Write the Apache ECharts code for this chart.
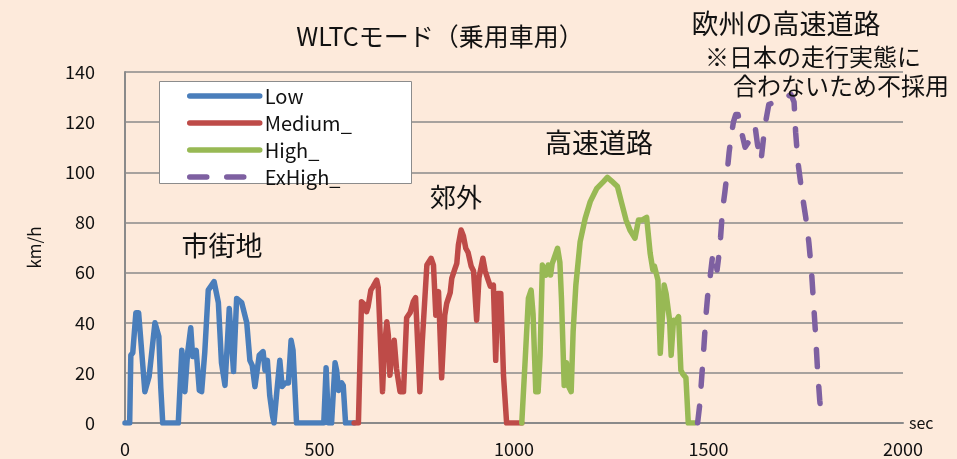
<!DOCTYPE html>
<html>
<head>
<meta charset="utf-8">
<script src="https://cdn.jsdelivr.net/npm/echarts@6/dist/echarts.min.js"></script>
<style>
  html, body { margin: 0; padding: 0; background: #FDEADB; }
  #chart { width: 957px; height: 459px; }
</style>
</head>
<body>
<div id="chart"></div>
<script>
// WLTC class 3 drive cycle: time (s) and vehicle speed (km/h) per phase
const lowTime = [0,12,15,20,28,35,46,51,56,62,77,87,92,97,137,146,154,161,169,174,183,191,197,205,214,229,240,248,257,268,279,287,300,313,321,327,334,339,345,355,360,366,372,379,383,390,398,404,412,420,427,432,441,511,517,523,531,540,544,549,557,561,567,589];
const lowSpeed = [0,0,27,28,44,44,22.5,12.5,12.5,18.5,40,34.5,14,0,0,29,12.5,28,38,26.5,29,13,12.5,28,53,56.4,48,24,15,45.7,20.5,49.7,48,40,25,23,14.5,15,27,28.5,21,25,11,3,0,12,25,14.6,16,16,33,29,0,0,22,0,0,24,21,13,16,15,0,0];

const mediumTime = [589,600,608,614,621,625,632,638,647,651,662,667,673,677,681,685,692,698,702,707,716,724,733,741,747,758,764,776,787,793,799,806,814,822,827,836,840,847,853,857,864,870,876,882,890,896,904,910,920,926,933,939,947,953,958,966,973,981,1020];
const mediumSpeed = [0,0,48.4,47.5,44.4,46.5,53,54.5,57,54,12.5,30,40.4,35,19,27,33,21.6,22,12.5,12.5,42,44,48.4,50,12.5,32,63,65.7,63,43,52.4,18,43,47.7,52,57.7,61,63.7,71,77,74.6,69.7,68,62.5,60.6,41,58,65.7,60.6,57.3,54.6,55,25,51.7,51.7,19,0,0];

const highTime = [1020,1028,1037,1044,1049,1056,1062,1067,1073,1078,1082,1088,1094,1098,1103,1112,1118,1122,1129,1135,1139,1147,1152,1159,1170,1183,1196,1213,1230,1240,1251,1266,1277,1288,1298,1311,1320,1330,1341,1350,1357,1361,1370,1376,1386,1391,1400,1404,1410,1414,1423,1429,1434,1442,1448,1465];
const highSpeed = [0,23,49.7,53,43.5,12.5,12.5,27,63,63,59,63,59,63.5,64,69.7,64,49.7,15,24,15,12.5,36.4,55,72.3,81.6,88.3,93.6,96.3,98,96.5,94.3,87.6,81,77,73.7,81,81,82,67.7,61,62.6,57,27.8,55,51.6,41,27,41,40,42.4,21,19.5,18,0,0];

const exHighTime = [1472,1478,1482,1488,1493,1498,1504,1510,1516,1522,1526,1531,1536,1542,1548,1553,1558,1564,1570,1576,1585,1594,1607,1620,1626,1635,1641,1648,1655,1670,1690,1712,1720,1724,1730,1740,1750,1758,1765,1770,1775,1780,1786,1790];
const exHighSpeed = [0,8,17,30,42,51,58,66,68,61,66,74,85,92,100,108,114,120,123,123,116,110,113,118,111,104.5,113,121,127,128,129,131,128,116,104,92,82,72,60,48,36,22,9,3];

// axis ticks
const xTicks = { min: 0, max: 2000, step: 500 };
const yTicks = { min: 0, max: 140, step: 20 };

const phaseNames = ['Low', 'Medium_', 'High_', 'ExHigh_'];
const phaseColors = ['#4A7EBB', '#BE4B48', '#98B954', '#7E60A1'];

const pairs = (ts, vs) => ts.map((t, i) => [t, vs[i]]);
const phaseData = [
  pairs(lowTime, lowSpeed),
  pairs(mediumTime, mediumSpeed),
  pairs(highTime, highSpeed),
  pairs(exHighTime, exHighSpeed)
];

const FONT = '"Noto Sans CJK JP", "Noto Sans", sans-serif';
const gray = '#8a8a8a';

const chart = echarts.init(document.getElementById('chart'), null, { renderer: 'canvas' });

const series = phaseNames.map((name, i) => ({
  name,
  type: 'line',
  data: phaseData[i],
  symbol: 'none',
  showSymbol: false,
  smooth: false,
  z: 3 + i,
  lineStyle: {
    color: phaseColors[i],
    width: 5.5,
    cap: 'round',
    join: 'round',
    type: i === 3 ? [17, 20] : 'solid'
  },
  itemStyle: { color: phaseColors[i] }
}));

const textEl = (text, x, y, size, align) => ({
  type: 'text',
  x, y,
  z: 20,
  style: {
    text,
    fill: '#111',
    fontSize: size,
    fontFamily: FONT,
    align: align || 'center',
    verticalAlign: 'middle'
  }
});

chart.setOption({
  animation: false,
  backgroundColor: '#FDEADB',
  grid: { left: 125, right: 54, top: 72, bottom: 36, containLabel: false },
  xAxis: {
    type: 'value',
    min: xTicks.min, max: xTicks.max, interval: xTicks.step,
    name: 'sec',
    nameLocation: 'end',
    nameGap: 6,
    nameTextStyle: { fontSize: 16, fontFamily: FONT, color: '#111', verticalAlign: 'middle' },
    axisLine: { show: true, lineStyle: { color: gray, width: 2 } },
    axisTick: { show: false },
    splitLine: { show: false },
    axisLabel: { fontSize: 18, fontFamily: FONT, color: '#111', margin: 17, formatter: v => String(v) }
  },
  yAxis: {
    type: 'value',
    min: yTicks.min, max: yTicks.max, interval: yTicks.step,
    name: 'km/h',
    nameLocation: 'middle',
    nameRotate: 90,
    nameGap: 82,
    nameTextStyle: { fontSize: 17, fontFamily: FONT, color: '#111' },
    axisLine: { show: true, lineStyle: { color: gray, width: 2 } },
    axisTick: { show: false },
    splitLine: { show: true, lineStyle: { color: gray, width: 1.5 } },
    axisLabel: { fontSize: 18, fontFamily: FONT, color: '#111', margin: 30, formatter: v => String(v) }
  },
  legend: {
    orient: 'vertical',
    left: 187,
    top: 86,
    padding: 0,
    itemGap: 7,
    itemWidth: 70,
    itemHeight: 14,
    z: 10,
    textStyle: { fontSize: 20, fontFamily: FONT, color: '#111' },
    lineStyle: { width: 5.5, cap: 'round' },
    itemStyle: { color: 'transparent', borderWidth: 0, opacity: 0 },
    data: phaseNames
  },
  graphic: [
    {
      type: 'rect',
      z: 5,
      shape: { x: 159.5, y: 81.5, width: 252, height: 102 },
      style: { fill: '#ffffff', stroke: '#8c8c8c', lineWidth: 1 }
    },
    textEl('WLTCモード（乗用車用）', 440, 36, 25),
    textEl('欧州の高速道路', 786, 24, 27),
    textEl('※日本の走行実態に', 705, 57, 24, 'left'),
    textEl('合わないため不採用', 733, 86, 24, 'left'),
    textEl('市街地', 222, 246, 27),
    textEl('郊外', 456, 197, 26),
    textEl('高速道路', 599, 143, 27)
  ],
  series
});
</script>
</body>
</html>
